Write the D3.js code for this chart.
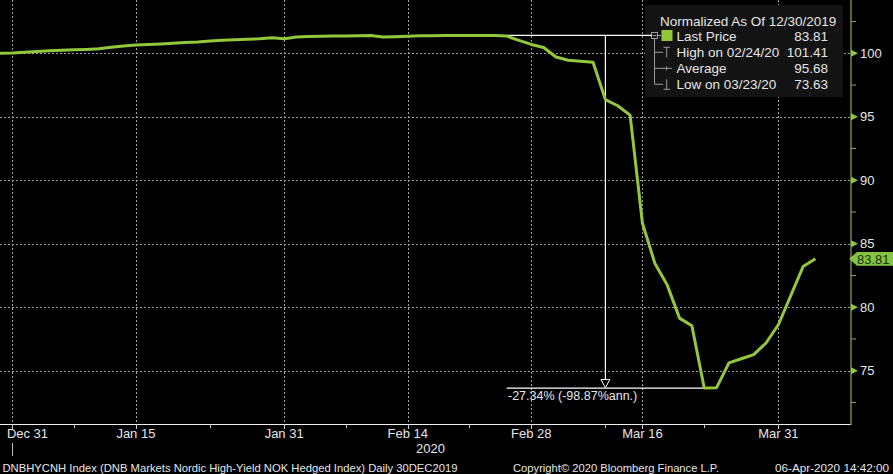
<!DOCTYPE html>
<html>
<head>
<meta charset="utf-8">
<script src="https://cdn.jsdelivr.net/npm/d3@7"></script>
<style>
  html, body { margin: 0; padding: 0; background: #000; }
  svg { display: block; }
  text { font-family: "Liberation Sans", Arial, sans-serif; }
</style>
</head>
<body>
<svg id="chart" width="893" height="474"></svg>
<script>
// ---------------- data ----------------
const dates = [
  "2019-12-30","2019-12-31","2020-01-02","2020-01-03","2020-01-06","2020-01-07","2020-01-08","2020-01-09","2020-01-10",
  "2020-01-13","2020-01-14","2020-01-15","2020-01-16","2020-01-17","2020-01-20","2020-01-21","2020-01-22","2020-01-23",
  "2020-01-24","2020-01-27","2020-01-28","2020-01-29","2020-01-30","2020-01-31","2020-02-03","2020-02-04","2020-02-05",
  "2020-02-06","2020-02-07","2020-02-10","2020-02-11","2020-02-12","2020-02-13","2020-02-14","2020-02-17","2020-02-18",
  "2020-02-19","2020-02-20","2020-02-21","2020-02-24","2020-02-25","2020-02-26","2020-02-27","2020-02-28","2020-03-02",
  "2020-03-03","2020-03-04","2020-03-05","2020-03-09","2020-03-10","2020-03-11","2020-03-12","2020-03-16","2020-03-17",
  "2020-03-18","2020-03-19","2020-03-20","2020-03-23","2020-03-24","2020-03-25","2020-03-26","2020-03-27","2020-03-30",
  "2020-03-31","2020-04-01","2020-04-02","2020-04-03"
];
const values = [
  100.00,100.02,100.08,100.15,100.20,100.24,100.28,100.31,100.36,
  100.47,100.58,100.66,100.70,100.74,100.80,100.86,100.90,100.97,
  101.02,101.06,101.10,101.14,101.22,101.14,101.28,101.32,101.34,
  101.36,101.37,101.38,101.40,101.28,101.30,101.34,101.39,101.39,
  101.40,101.40,101.40,101.41,101.40,101.36,101.02,100.70,100.46,
  99.71,99.45,99.37,99.29,96.35,95.87,95.13,86.61,83.47,
  81.76,79.14,78.54,73.63,73.66,75.61,75.94,76.26,77.18,
  78.62,80.90,83.20,83.81
];
const xTickDates  = ["2019-12-31","2020-01-15","2020-01-31","2020-02-14","2020-02-28","2020-03-16","2020-03-31"];
const xTickLabels = ["Dec 31","Jan 15","Jan 31","Feb 14","Feb 28","Mar 16","Mar 31"];
const xMinorDates = ["2020-01-08","2020-01-23","2020-02-07","2020-02-21","2020-03-10","2020-03-23"];
const yTicks = [100, 95, 90, 85, 80, 75];
const yMinor = [102.5, 97.5, 92.5, 87.5, 82.5, 77.5, 72.5];
const yearLabel = "2020";
const legendTitle = "Normalized As Of 12/30/2019";
const legendLabels = ["Last Price", "High on 02/24/20", "Average", "Low on 03/23/20"];
const legendValues = ["83.81", "101.41", "95.68", "73.63"];
const lastValue = 83.81, highValue = 101.41, lowValue = 73.63;
const bracketStart = "2020-02-26", bracketDate = "2020-03-10", bracketEnd = "2020-03-24";
const changeText = "-27.34% (-98.87%ann.)";
const footerLeft = "DNBHYCNH Index (DNB Markets Nordic High-Yield NOK Hedged Index)  Daily 30DEC2019";
const footerMid = "Copyright\u00A9 2020 Bloomberg Finance L.P.";
const footerRight = "06-Apr-2020 14:42:00";

// ---------------- layout ----------------
const plotRight = 851, plotBottom = 424, step = 12.355;
const lineColor = "#93c83c", axisColor = "#8fa862", gridColor = "#a0a0a0", txt = "#e6e6e6";

const x = d3.scalePoint().domain(dates).range([0, step * (dates.length - 1)]);
const y = d3.scaleLinear().domain([70.8, 104.2]).range([plotBottom, 0]);

const svg = d3.select("#chart");
svg.append("rect").attr("width", 893).attr("height", 474).attr("fill", "#000");

// gridlines
svg.append("g").selectAll("line").data(yTicks).join("line")
  .attr("x1", 0).attr("x2", plotRight).attr("y1", d => Math.round(y(d)) + 0.5).attr("y2", d => Math.round(y(d)) + 0.5)
  .attr("stroke", gridColor).attr("stroke-width", 1).attr("stroke-dasharray", "2,2");
svg.append("g").selectAll("line").data(xTickDates).join("line")
  .attr("x1", d => Math.round(x(d)) + 0.5).attr("x2", d => Math.round(x(d)) + 0.5).attr("y1", 0).attr("y2", plotBottom)
  .attr("stroke", gridColor).attr("stroke-width", 1).attr("stroke-dasharray", "2,2");

// x axis
svg.append("line").attr("x1", 0).attr("x2", plotRight).attr("y1", plotBottom + 0.5).attr("y2", plotBottom + 0.5)
  .attr("stroke", "#f0f0f0").attr("stroke-width", 1);
svg.append("g").selectAll("line").data(xTickDates).join("line")
  .attr("x1", d => Math.round(x(d)) + 0.5).attr("x2", d => Math.round(x(d)) + 0.5).attr("y1", plotBottom).attr("y2", plotBottom + 5)
  .attr("stroke", "#cfcfcf");
svg.append("g").selectAll("line").data(xMinorDates).join("line")
  .attr("x1", d => Math.round(x(d)) + 0.5).attr("x2", d => Math.round(x(d)) + 0.5).attr("y1", plotBottom).attr("y2", plotBottom + 4)
  .attr("stroke", "#cfcfcf");
svg.append("g").selectAll("text").data(xTickDates).join("text")
  .attr("x", d => Math.max(x(d), 27.5)).attr("y", 438)
  .attr("text-anchor", "middle").attr("fill", txt).attr("font-size", 13)
  .text((d, i) => xTickLabels[i]);
// year separator + year label
svg.append("line").attr("x1", Math.round(x(xTickDates[0])) + 0.5).attr("x2", Math.round(x(xTickDates[0])) + 0.5)
  .attr("y1", 443).attr("y2", 456).attr("stroke", "#bdbdbd");
svg.append("text").attr("x", 445).attr("y", 453).attr("text-anchor", "end")
  .attr("fill", txt).attr("font-size", 13).text(yearLabel);

// right axis
svg.append("line").attr("x1", plotRight).attr("x2", plotRight).attr("y1", 0).attr("y2", plotBottom + 1)
  .attr("stroke", axisColor).attr("stroke-width", 1.2);
svg.append("g").selectAll("line").data(yMinor).join("line")
  .attr("x1", plotRight).attr("x2", plotRight + 5).attr("y1", d => y(d)).attr("y2", d => y(d))
  .attr("stroke", axisColor);
svg.append("g").selectAll("path").data(yTicks).join("path")
  .attr("d", d => `M${plotRight},${y(d) - 3.5}L${plotRight + 7},${y(d)}L${plotRight},${y(d) + 3.5}Z`)
  .attr("fill", lineColor);
svg.append("g").selectAll("text").data(yTicks).join("text")
  .attr("x", 860).attr("y", d => y(d) + 4.5).attr("fill", txt).attr("font-size", 13)
  .text(d => d);

// legend box
const lg = svg.append("g");
lg.append("rect").attr("x", 645).attr("y", 5).attr("width", 198).attr("height", 92).attr("fill", "#131313");

// annotation lines (behind series)
svg.append("line").attr("x1", x(bracketStart)).attr("x2", 651.5).attr("y1", y(highValue)).attr("y2", y(highValue))
  .attr("stroke", "#ffffff").attr("stroke-width", 1.2);
svg.append("line").attr("x1", x(bracketStart)).attr("x2", x(bracketEnd)).attr("y1", y(lowValue)).attr("y2", y(lowValue))
  .attr("stroke", "#ffffff").attr("stroke-width", 1.2);
svg.append("line").attr("x1", x(bracketDate)).attr("x2", x(bracketDate)).attr("y1", y(highValue)).attr("y2", y(lowValue) - 8)
  .attr("stroke", "#ffffff").attr("stroke-width", 1.2);
svg.append("path")
  .attr("d", `M${x(bracketDate) - 4.5},${y(lowValue) - 8.5}L${x(bracketDate) + 4.5},${y(lowValue) - 8.5}L${x(bracketDate)},${y(lowValue) - 0.5}Z`)
  .attr("fill", "#000").attr("stroke", "#ffffff").attr("stroke-width", 1);
svg.append("text").attr("x", 508).attr("y", y(lowValue) + 11.5).attr("fill", txt).attr("font-size", 12.5)
  .text(changeText);

// series
const line = d3.line().x((d, i) => x(dates[i])).y(d => y(d));
svg.append("path").datum(values).attr("d", line)
  .attr("fill", "none").attr("stroke", lineColor).attr("stroke-width", 3).attr("stroke-linejoin", "round");

// last price tag
const ty = y(lastValue);
svg.append("path")
  .attr("d", `M${plotRight - 2},${ty}L${plotRight + 6},${ty - 6.8}L893,${ty - 6.8}L893,${ty + 6.8}L${plotRight + 6},${ty + 6.8}Z`)
  .attr("fill", "#86c440");
svg.append("text").attr("x", 857).attr("y", ty + 5).attr("fill", "#17330a").attr("font-size", 13)
  .text(legendValues[0]);

// legend content
lg.append("text").attr("x", 660).attr("y", 25.5).attr("fill", txt).attr("font-size", 13.5).text(legendTitle);
const rowY = [35.7, 52.3, 68.3, 84.3];
const iconC = "#9a9a9a";
lg.append("rect").attr("x", 651.5).attr("y", 32.5).attr("width", 6).attr("height", 6)
  .attr("fill", "#131313").attr("stroke", iconC).attr("stroke-width", 1);
lg.append("line").attr("x1", 652.5).attr("x2", 656.5).attr("y1", 35.5).attr("y2", 35.5).attr("stroke", iconC);
lg.append("line").attr("x1", 657.5).attr("x2", 661.5).attr("y1", 35.5).attr("y2", 35.5).attr("stroke", iconC);
lg.append("line").attr("x1", 654.5).attr("x2", 654.5).attr("y1", 38.5).attr("y2", rowY[3]).attr("stroke", iconC);
lg.append("g").selectAll("line").data(rowY.slice(1)).join("line")
  .attr("x1", 654.5).attr("x2", 663).attr("y1", d => d).attr("y2", d => d).attr("stroke", iconC);
lg.append("rect").attr("x", 661.5).attr("y", 30).attr("width", 11).attr("height", 11).attr("fill", lineColor);
// high icon
lg.append("path").attr("d", `M663.5,${rowY[1] - 5}H670M666.7,${rowY[1] - 5}V${rowY[1] + 5}`).attr("stroke", iconC).attr("fill", "none");
// average icon
lg.append("path").attr("d", `M662,${rowY[2]}H672M666.7,${rowY[2] - 2}V${rowY[2] + 2}`).attr("stroke", iconC).attr("fill", "none");
// low icon
lg.append("path").attr("d", `M666.7,${rowY[3] - 5}V${rowY[3] + 5}M663.5,${rowY[3] + 5}H670`).attr("stroke", iconC).attr("fill", "none");
lg.append("g").selectAll("text").data(legendLabels).join("text")
  .attr("x", 676.5).attr("y", (d, i) => rowY[i] + 5).attr("fill", txt).attr("font-size", 13.5).text(d => d);
lg.append("g").selectAll("text").data(legendValues).join("text")
  .attr("x", 828).attr("y", (d, i) => rowY[i] + 5).attr("text-anchor", "end")
  .attr("fill", txt).attr("font-size", 13.5).text(d => d);

// footer
svg.append("text").attr("x", 2.5).attr("y", 472).attr("fill", txt).attr("font-size", 11)
  .attr("textLength", 455).attr("lengthAdjust", "spacingAndGlyphs").text(footerLeft);
svg.append("text").attr("x", 513).attr("y", 472).attr("fill", txt).attr("font-size", 11)
  .attr("textLength", 206).attr("lengthAdjust", "spacingAndGlyphs").text(footerMid);
svg.append("text").attr("x", 775).attr("y", 472).attr("fill", txt).attr("font-size", 11)
  .attr("textLength", 114).attr("lengthAdjust", "spacingAndGlyphs").text(footerRight);
</script>
</body>
</html>
